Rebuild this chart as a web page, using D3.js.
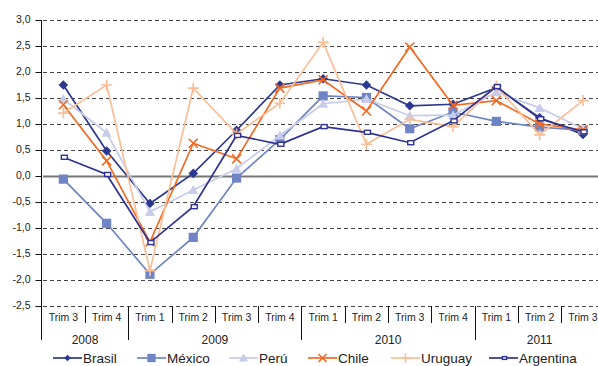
<!DOCTYPE html>
<html>
<head>
<meta charset="utf-8">
<script src="https://cdn.jsdelivr.net/npm/d3@7"></script>
<style>
  html, body { margin: 0; padding: 0; background: #fff; }
  svg { display: block; font-family: "Liberation Sans", Arial, sans-serif; }
</style>
</head>
<body>
<svg id="chart" width="598" height="366"></svg>
<script>
// Quarterly growth (%), 2008 Q3 – 2011 Q3
const quarters = ["Trim 3","Trim 4","Trim 1","Trim 2","Trim 3","Trim 4","Trim 1","Trim 2","Trim 3","Trim 4","Trim 1","Trim 2","Trim 3"];
const years = ["2008","2009","2010","2011"];
const yearQuarterCounts = [2, 4, 4, 3];
const yTicks = [3.0, 2.5, 2.0, 1.5, 1.0, 0.5, 0.0, -0.5, -1.0, -1.5, -2.0, -2.5];

const seriesNames = ["Brasil","México","Perú","Chile","Uruguay","Argentina"];
const brasil    = [1.75, 0.48, -0.53, 0.05, 0.88, 1.75, 1.87, 1.75, 1.35, 1.38, 1.70, 1.12, 0.80];
const mexico    = [-0.06, -0.91, -1.89, -1.18, -0.04, 0.70, 1.54, 1.51, 0.91, 1.23, 1.05, 0.94, 0.88];
const peru      = [1.48, 0.83, -0.69, -0.27, 0.14, 0.78, 1.39, 1.48, 1.16, 1.17, 1.61, 1.31, 0.91];
const chile     = [1.37, 0.29, -1.27, 0.63, 0.33, 1.69, 1.85, 1.25, 2.48, 1.36, 1.45, 1.00, 0.89];
const uruguay   = [1.21, 1.75, -1.82, 1.69, 0.81, 1.40, 2.57, 0.61, 1.09, 0.95, 1.73, 0.79, 1.45];
const argentina = [0.36, 0.03, -1.28, -0.59, 0.78, 0.61, 0.95, 0.84, 0.64, 1.06, 1.72, 1.10, 0.85];

const seriesValues = [brasil, mexico, peru, chile, uruguay, argentina];
const seriesColors = ["#2B3990", "#6E84C5", "#C6CCEA", "#F26A22", "#FBBD94", "#2E3192"];
const seriesMarkers = ["diamond", "square", "triangle", "cross", "plus", "rect"];

const svg = d3.select("#chart");

const x = d3.scaleBand()
  .domain(d3.range(quarters.length))
  .range([41.7, 41.7 + 13 * 43.3]);

const y = d3.scaleLinear().domain([-2.5, 3]).range([306, 20]);

// horizontal gridlines (zero line solid)
const grid = svg.append("g");
grid.selectAll("line.g")
  .data(yTicks)
  .join("line")
  .attr("x1", 43).attr("x2", 598)
  .attr("y1", d => Math.round(y(d)) + 0.5)
  .attr("y2", d => Math.round(y(d)) + 0.5)
  .attr("stroke", d => d === 0 ? "#777" : "#444")
  .attr("stroke-width", d => d === 0 ? 2 : 1)
  .attr("stroke-dasharray", d => d === 0 ? null : "4,3");

// y axis
const fmt = v => d3.format(".1f")(v).replace(".", ",").replace("−", "-");
const yAxis = d3.axisLeft(y).tickValues(yTicks).tickSize(6).tickPadding(5).tickFormat(fmt);
const ga = svg.append("g").attr("transform", "translate(41.5,0)").call(yAxis);
ga.select(".domain").remove();
ga.selectAll(".tick line").attr("stroke", "#111");
ga.selectAll(".tick text")
  .attr("font-size", 10.5)
  .attr("fill", "#222")
  .attr("font-family", "Liberation Sans, Arial, sans-serif")
  .attr("dy", "0.2em");
svg.append("line")
  .attr("x1", 41.5).attr("x2", 41.5)
  .attr("y1", y(3)).attr("y2", 340)
  .attr("stroke", "#111").attr("stroke-width", 1);

// category axis
const base = y(-2.5);
const catG = svg.append("g");
catG.selectAll("line")
  .data(d3.range(1, quarters.length + 1))
  .join("line")
  .attr("x1", i => Math.round(x.step() * i + 41.7) + 0.5)
  .attr("x2", i => Math.round(x.step() * i + 41.7) + 0.5)
  .attr("y1", base)
  .attr("y2", base + 17)
  .attr("stroke", "#111");
catG.selectAll("text")
  .data(quarters)
  .join("text")
  .attr("x", (d, i) => x(i) + x.bandwidth() / 2)
  .attr("y", base + 15)
  .attr("text-anchor", "middle")
  .attr("font-size", 10.5)
  .attr("fill", "#222")
  .text(d => d);

// year groups
let start = 0;
const yearData = years.map((yr, k) => {
  const s = start; start += yearQuarterCounts[k];
  return { label: yr, s, e: start };
});
const yrG = svg.append("g");
yrG.selectAll("line")
  .data(yearData.slice(0, -1))
  .join("line")
  .attr("x1", d => Math.round(x(d.e)) + 0.5)
  .attr("x2", d => Math.round(x(d.e)) + 0.5)
  .attr("y1", base)
  .attr("y2", 340)
  .attr("stroke", "#111");
yrG.selectAll("text")
  .data(yearData)
  .join("text")
  .attr("x", d => (x(d.s) + x(d.e - 1) + x.bandwidth()) / 2)
  .attr("y", 344)
  .attr("text-anchor", "middle")
  .attr("font-size", 12)
  .attr("fill", "#222")
  .text(d => d.label);

// markers
function drawMarker(g, type, color, cx, cy, scale) {
  const s = scale || 1;
  if (type === "diamond") {
    const r = 4.8 * s;
    g.append("path").attr("d", `M${cx},${cy - r}L${cx + r},${cy}L${cx},${cy + r}L${cx - r},${cy}Z`).attr("fill", color);
  } else if (type === "square") {
    const r = 4.6 * s;
    g.append("rect").attr("x", cx - r).attr("y", cy - r).attr("width", 2 * r).attr("height", 2 * r).attr("fill", color);
  } else if (type === "triangle") {
    const r = 5 * s;
    g.append("path").attr("d", `M${cx},${cy - r}L${cx + r},${cy + r * 0.8}L${cx - r},${cy + r * 0.8}Z`).attr("fill", color);
  } else if (type === "cross") {
    const r = 4.5 * s;
    g.append("path").attr("d", `M${cx - r},${cy - r}L${cx + r},${cy + r}M${cx - r},${cy + r}L${cx + r},${cy - r}`)
      .attr("stroke", color).attr("stroke-width", 1.6).attr("fill", "none");
  } else if (type === "plus") {
    const r = 5.5 * s;
    g.append("path").attr("d", `M${cx - r},${cy}L${cx + r},${cy}M${cx},${cy - r}L${cx},${cy + r}`)
      .attr("stroke", color).attr("stroke-width", 1.6).attr("fill", "none");
  } else if (type === "rect") {
    g.append("rect").attr("x", cx - 3 * s + 1).attr("y", cy - 2 * s).attr("width", 6 * s).attr("height", 4 * s)
      .attr("fill", "#fff").attr("stroke", color).attr("stroke-width", 1.4);
  }
}

const line = d3.line()
  .x((d, i) => x(i) + x.bandwidth() / 2)
  .y(d => y(d));

seriesValues.forEach((vals, k) => {
  const g = svg.append("g");
  g.append("path")
    .attr("d", line(vals))
    .attr("fill", "none")
    .attr("stroke", seriesColors[k])
    .attr("stroke-width", 1.7);
  vals.forEach((v, i) => drawMarker(g, seriesMarkers[k], seriesColors[k], x(i) + x.bandwidth() / 2, y(v)));
});

// legend
const legendX = [53, 137, 229, 308, 391, 489];
const legY = 358;
const lg = svg.append("g");
seriesNames.forEach((name, k) => {
  const x0 = legendX[k];
  lg.append("line").attr("x1", x0).attr("x2", x0 + 29).attr("y1", legY).attr("y2", legY)
    .attr("stroke", seriesColors[k]).attr("stroke-width", 1.7);
  const mScale = seriesMarkers[k] === "diamond" ? 0.7 : seriesMarkers[k] === "rect" ? 0.7 : 0.9;
  drawMarker(lg, seriesMarkers[k], seriesColors[k], x0 + 14.5, legY, mScale);
  lg.append("text").attr("x", x0 + 30).attr("y", legY + 4.5)
    .attr("font-size", 13.5).attr("fill", "#222").text(name);
});
</script>
</body>
</html>
